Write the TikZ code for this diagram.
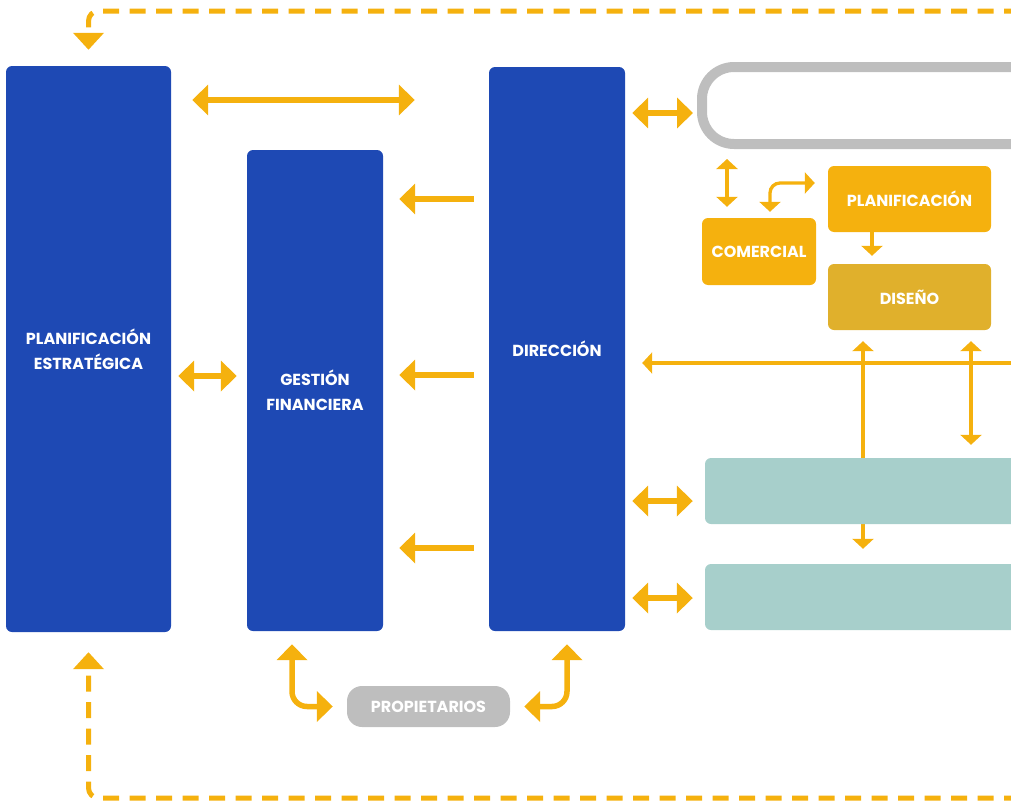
\documentclass[tikz,border=0pt]{standalone}
\usepackage{fontspec}
\setmainfont{Poppins}
\usetikzlibrary{arrows.meta, positioning, calc, backgrounds}
\definecolor{dirblue}{RGB}{30, 73, 180}
\definecolor{arrowgold}{RGB}{245, 177, 14}
\definecolor{designgold}{RGB}{224, 176, 44}
\definecolor{framegray}{RGB}{190, 190, 190}
\definecolor{areateal}{RGB}{167, 207, 203}

\tikzset{
  boxtext/.style={text=white, align=center, font=\bfseries\fontsize{16pt}{25pt}\selectfont},
  bluebox/.style={boxtext, fill=dirblue, rounded corners=6pt},
  goldbox/.style={boxtext, fill=arrowgold, rounded corners=6pt, minimum width=163pt, minimum height=66pt},
  tealbox/.style={fill=areateal, rounded corners=6pt, minimum width=395pt, minimum height=66pt},
  bigarrow/.style={draw=arrowgold, line width=5.5pt, {Triangle[length=16pt, width=30pt]}-{Triangle[length=16pt, width=30pt]}},
  leftarrow/.style={draw=arrowgold, line width=5.5pt, -{Triangle[length=16pt, width=30pt]}},
  thinarrow/.style={draw=arrowgold, line width=3.3pt, {Triangle[length=10pt, width=21pt]}-{Triangle[length=10pt, width=21pt]}},
  thinpointer/.style={draw=arrowgold, line width=3.3pt, -{Triangle[length=10pt, width=21pt]}},
  dashloop/.style={draw=arrowgold, line width=5pt, dash pattern=on 16pt off 10.5pt, rounded corners=10pt, -{Triangle[length=17pt, width=30pt]}}
}

\begin{document}
\begin{tikzpicture}[x=1pt, y=-1pt]
  \useasboundingbox (0,0) rectangle (1011,803);

  % Blue columns
  \node[bluebox, minimum width=165pt, minimum height=566pt] (strat) at (88.5, 349) {PLANIFICACIÓN\\ESTRATÉGICA};
  \node[bluebox, minimum width=136pt, minimum height=481pt] (fin) at (315, 390.5) {GESTIÓN\\FINANCIERA};
  \node[bluebox, minimum width=136pt, minimum height=564pt] (dir) at (557, 349) {DIRECCIÓN};

  % Market frame and departments
  \node[draw=framegray, line width=10pt, rounded corners=32pt, minimum width=400pt, minimum height=77pt] (market) at (902, 105.5) {};
  \node[goldbox, minimum width=114pt, minimum height=67pt] (com) at (759, 251.5) {COMERCIAL};
  \node[goldbox] (plan) at (909.5, 199) {PLANIFICACIÓN};
  \node[goldbox, fill=designgold] (design) at (909.5, 297) {DISEÑO};

  \node[tealbox] (area1) at (902.5, 491) {};
  \node[tealbox] (area2) at (902.5, 597) {};

  \node[boxtext, fill=framegray, rounded corners=15pt, minimum width=163pt, minimum height=41pt] (owners) at (428.5, 706.5) {PROPIETARIOS};

  % Links under the teal areas
  \begin{scope}[on background layer]
    \draw[thinarrow, shorten <=11pt, shorten >=15pt] (design.south -| 863,0) -- (area2.north -| 863,0);
    \draw[thinarrow, shorten <=11pt, shorten >=13pt] (design.south -| 971,0) -- (area1.north -| 971,0);
  \end{scope}
  \coordinate (offpage) at (1020, 363);
  \draw[thinpointer, shorten >=17pt] (offpage) -- (dir.east |- offpage);

  % Arrows between columns
  \draw[bigarrow, shorten <=21pt, shorten >=74pt] (strat.east |- 0,100) -- (dir.west |- 0,100);
  \draw[bigarrow, shorten <=7pt, shorten >=10pt] (strat.east |- 0,376) -- (fin.west |- 0,376);
  \foreach \y in {199, 375, 548}
    \draw[leftarrow, shorten <=15pt, shorten >=16pt] (dir.west |- 0,\y) -- (fin.east |- 0,\y);

  % Direction to the right
  \draw[bigarrow, shorten <=7pt, shorten >=4pt] (dir.east |- 0,113) -- (market.west |- 0,113);
  \draw[bigarrow, shorten <=7pt, shorten >=12pt] (dir.east |- 0,501) -- (area1.west |- 0,501);
  \draw[bigarrow, shorten <=7pt, shorten >=12pt] (dir.east |- 0,598) -- (area2.west |- 0,598);

  % Departments
  \draw[thinarrow, shorten <=10pt, shorten >=11pt] (market.south -| 727,0) -- (com.north -| 727,0);
  \draw[thinarrow, rounded corners=10pt] ([shift={(11pt,6pt)}]com.north) |- ([shift={(-13pt,16pt)}]plan.west);
  \draw[thinpointer, shorten >=8pt] (plan.south -| 872,0) -- (design.north -| 872,0);

  % Owners
  \draw[bigarrow, rounded corners=15pt, shorten <=13pt, shorten >=14pt] ([xshift=-23pt]fin.south) |- (owners.west);
  \draw[bigarrow, rounded corners=15pt, shorten <=13pt, shorten >=14pt] ([xshift=10pt]dir.south) |- (owners.east);

  % Feedback loop
  \coordinate (loopin) at (1020, 11);
  \coordinate (loopout) at (1020, 798);
  \draw[dashloop, shorten >=16pt] (loopin) -| (strat.north);
  \draw[dashloop, shorten >=20pt] (loopout) -| (strat.south);
\end{tikzpicture}
\end{document}
